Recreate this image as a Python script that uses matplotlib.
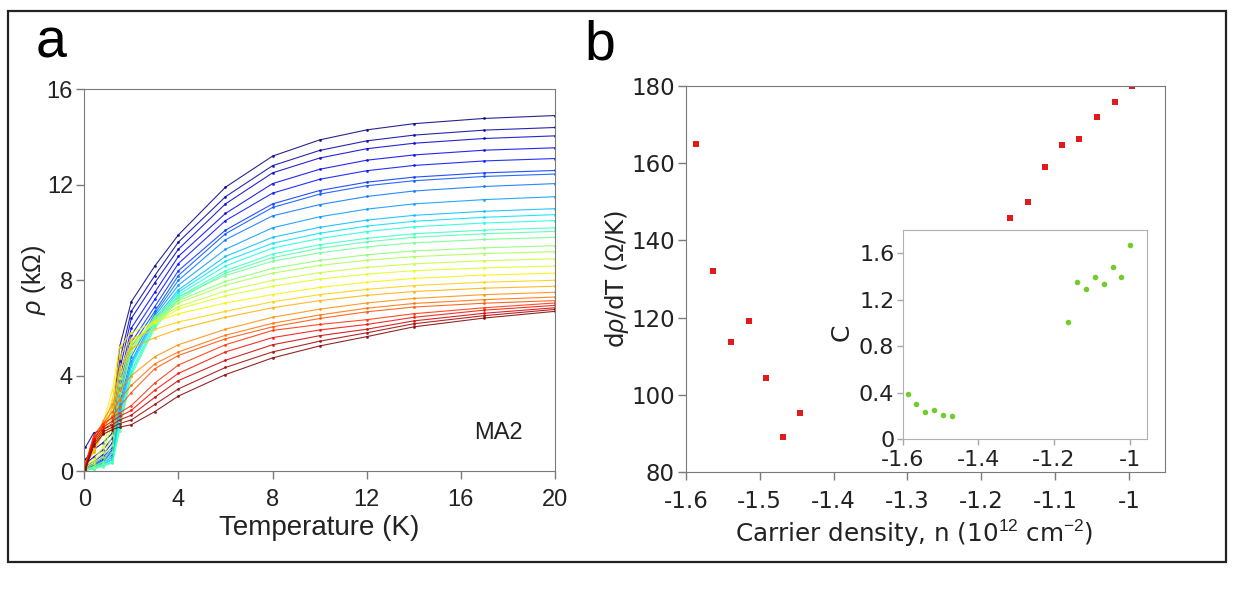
import matplotlib
matplotlib.use("Agg")
import matplotlib.pyplot as plt
from matplotlib.patches import Rectangle
import numpy as np

plt.rcParams['axes.unicode_minus'] = False
plt.rcParams['mathtext.fontset'] = 'custom'
plt.rcParams['mathtext.rm'] = 'Liberation Sans'
plt.rcParams['mathtext.it'] = 'Liberation Sans:italic'
plt.rcParams['mathtext.bf'] = 'Liberation Sans:bold'

# ---- panel a: resistivity vs temperature (rows = curves, top to bottom at 20 K)
T_K = [0.05, 0.4, 0.8, 1.2, 1.5, 2, 3, 4, 6, 8, 10, 12, 14, 17, 20]

rho_blue = [
    [1.0, 1.6, 1.75, 2.0, 5.2, 7.1, 8.6, 9.9, 11.9, 13.2, 13.88, 14.3, 14.56, 14.78, 14.9],
    [0.5, 0.9, 1.2, 1.6, 4.6, 6.7, 8.2, 9.6, 11.5, 12.8, 13.44, 13.84, 14.08, 14.29, 14.4],
    [0.3, 0.6, 0.9, 1.4, 4.2, 6.4, 7.9, 9.3, 11.2, 12.5, 13.12, 13.51, 13.74, 13.94, 14.05],
    [0.2, 0.4, 0.7, 1.2, 3.8, 6.0, 7.5, 9.0, 10.8, 12.05, 12.65, 13.03, 13.25, 13.45, 13.55],
    [0.15, 0.3, 0.6, 1.0, 3.5, 5.7, 7.2, 8.7, 10.5, 11.65, 12.23, 12.59, 12.81, 13.0, 13.1],
    [0.1, 0.3, 0.5, 0.9, 3.2, 5.4, 6.9, 8.4, 10.1, 11.2, 11.76, 12.11, 12.32, 12.5, 12.6],
    [0.1, 0.25, 0.45, 0.8, 3.0, 5.2, 6.7, 8.2, 9.95, 11.05, 11.61, 11.96, 12.17, 12.35, 12.45],
]
rho_cyan = [
    [0.05, 0.2, 0.4, 0.7, 2.8, 4.8, 6.6, 8.0, 9.7, 10.7, 11.17, 11.51, 11.74, 11.93, 12.05],
    [0.05, 0.2, 0.35, 0.6, 2.6, 4.6, 6.5, 7.8, 9.3, 10.2, 10.66, 10.98, 11.2, 11.38, 11.5],
    [0.05, 0.15, 0.3, 0.5, 2.4, 4.5, 6.4, 7.6, 9.0, 9.8, 10.22, 10.52, 10.72, 10.89, 11.0],
    [0.05, 0.15, 0.3, 0.5, 2.2, 4.4, 6.3, 7.5, 8.8, 9.55, 9.97, 10.27, 10.47, 10.64, 10.75],
    [0.05, 0.1, 0.25, 0.4, 2.0, 4.2, 6.2, 7.4, 8.6, 9.35, 9.75, 10.04, 10.24, 10.4, 10.5],
    [0.05, 0.1, 0.25, 0.4, 1.8, 4.1, 6.1, 7.3, 8.4, 9.1, 9.49, 9.76, 9.95, 10.1, 10.2],
    [0.05, 0.1, 0.2, 0.35, 1.7, 4.0, 6.0, 7.2, 8.3, 8.95, 9.34, 9.61, 9.8, 9.95, 10.05],
]
rho_green = [
    [0.05, 0.15, 0.3, 0.8, 3.0, 5.0, 6.5, 7.3, 8.2, 8.8, 9.15, 9.4, 9.57, 9.71, 9.8],
    [0.05, 0.2, 0.4, 1.1, 3.3, 5.1, 6.4, 7.15, 7.95, 8.5, 8.83, 9.07, 9.23, 9.36, 9.45],
    [0.1, 0.3, 0.6, 1.5, 3.6, 5.2, 6.35, 7.05, 7.8, 8.3, 8.62, 8.84, 8.99, 9.12, 9.2],
    [0.15, 0.4, 0.8, 2.0, 3.9, 5.3, 6.3, 6.9, 7.55, 8.0, 8.32, 8.54, 8.69, 8.82, 8.9],
    [0.2, 0.5, 1.0, 2.4, 4.2, 5.4, 6.2, 6.8, 7.35, 7.75, 8.05, 8.26, 8.4, 8.52, 8.6],
]
rho_yellow = [
    [0.3, 0.9, 2.0, 3.4, 5.2, 5.8, 6.25, 6.6, 7.05, 7.4, 7.7, 7.92, 8.08, 8.22, 8.3],
    [0.3, 0.8, 1.8, 3.0, 4.8, 5.55, 5.95, 6.25, 6.7, 7.1, 7.4, 7.62, 7.78, 7.92, 8.0],
    [0.35, 0.8, 1.6, 2.7, 4.3, 5.15, 5.6, 5.95, 6.45, 6.85, 7.15, 7.37, 7.53, 7.67, 7.75],
]
rho_orange = [
    [0.3, 1.2, 2.1, 2.8, 3.4, 4.0, 4.8, 5.3, 5.95, 6.45, 6.79, 7.05, 7.24, 7.4, 7.5],
    [0.3, 1.3, 2.0, 2.5, 3.0, 3.6, 4.5, 5.0, 5.7, 6.2, 6.55, 6.83, 7.03, 7.19, 7.3],
    [0.3, 1.4, 1.9, 2.3, 2.7, 3.3, 4.3, 4.85, 5.55, 6.05, 6.4, 6.68, 6.88, 7.04, 7.15],
]
rho_red = [
    [0.3, 1.5, 2.0, 2.25, 2.45, 2.75, 3.7, 4.45, 5.3, 5.9, 6.15, 6.35, 6.6, 6.85, 7.05],
    [0.2, 1.35, 1.85, 2.1, 2.3, 2.55, 3.4, 4.1, 5.0, 5.6, 5.92, 6.15, 6.45, 6.75, 6.95],
    [0.15, 1.25, 1.75, 1.95, 2.15, 2.35, 3.1, 3.8, 4.65, 5.3, 5.68, 5.95, 6.3, 6.62, 6.85],
    [0.1, 1.15, 1.65, 1.85, 2.0, 2.15, 2.8, 3.45, 4.35, 5.0, 5.45, 5.8, 6.18, 6.52, 6.78],
    [0.05, 1.05, 1.55, 1.75, 1.85, 1.95, 2.5, 3.15, 4.05, 4.75, 5.25, 5.64, 6.05, 6.42, 6.7],
]

# ---- panel b: slope and exponent vs carrier density
n_slope = [-1.586, -1.563, -1.539, -1.515, -1.492, -1.468, -1.445,
           -1.161, -1.137, -1.114, -1.090, -1.067, -1.043, -1.019, -0.996]
drho_dT = [165.0, 132.0, 113.6, 119.0, 104.4, 89.1, 95.3,
           145.8, 150.0, 159.1, 164.7, 166.2, 171.9, 175.9, 180.0]
n_C = [-1.587, -1.564, -1.540, -1.516, -1.4925, -1.4696,
       -1.162, -1.139, -1.115, -1.0915, -1.068, -1.0445, -1.0216, -0.998]
C_vals = [0.39, 0.30, 0.235, 0.255, 0.206, 0.20,
          1.006, 1.356, 1.293, 1.40, 1.336, 1.482, 1.393, 1.674]

W, H = 1241, 591
fig = plt.figure(figsize=(W / 100, H / 100), dpi=100)


def box(l, t, r, b):
    return [l / W, 1 - b / H, (r - l) / W, (b - t) / H]


spine_col = '#7a7a7a'
text_col = '#222222'

# ---------------- panel a
fa = 'Liberation Sans'
ax1 = fig.add_axes(box(84.2, 89.3, 555, 471.3))
curves = rho_blue + rho_cyan + rho_green + rho_yellow + rho_orange + rho_red
cols = plt.cm.jet(np.linspace(0.0, 1.0, len(curves)))
for rho, c in zip(curves, cols):
    ax1.plot(T_K, rho, '-', color=c, lw=0.8, alpha=0.85,
             marker='o', ms=2.0, mew=0)
ax1.set_xlim(0, 20)
ax1.set_ylim(0, 16)
ax1.set_xticks([0, 4, 8, 12, 16, 20])
ax1.set_yticks([0, 4, 8, 12, 16])
ax1.text(17.6, 1.6, 'MA2', ha='center', va='center', fontsize=17,
         family=fa, color=text_col)
ax1.set_xlabel('Temperature (K)', fontsize=20, family=fa, color=text_col)
ax1.set_ylabel(r'$\it{\rho}$ (k$\Omega$)', fontsize=18, family=fa, color=text_col)
ax1.xaxis.set_label_coords(0.5, -0.115)
ax1.yaxis.set_label_coords(-0.077, 0.5)
for lab in ax1.get_xticklabels() + ax1.get_yticklabels():
    lab.set_family(fa)
ax1.tick_params(labelsize=17, colors=spine_col, labelcolor=text_col,
                direction='out', length=6, width=1, pad=2)
ax1.tick_params(axis='x', pad=7)
for s in ax1.spines.values():
    s.set_color(spine_col)

# ---------------- panel b
fb = 'DejaVu Sans'
ax2 = fig.add_axes(box(686, 86, 1165, 472))
ax2.plot(n_slope, drho_dT, 's', color='#e01b1b', ms=4.2, mew=0)
ax2.set_xlim(-1.6, -0.951)
ax2.set_ylim(80, 180)
ax2.set_xticks([-1.6, -1.5, -1.4, -1.3, -1.2, -1.1, -1.0])
ax2.set_xticklabels(['-1.6', '-1.5', '-1.4', '-1.3', '-1.2', '-1.1', '-1'])
ax2.set_yticks([80, 100, 120, 140, 160, 180])
ax2.set_xlabel(r'Carrier density, n (10$^{12}$ cm$^{-2}$)', fontsize=17.7,
               family=fb, color=text_col)
ax2.set_ylabel(r'd$\it{\rho}$/dT ($\Omega$/K)', fontsize=17.7, family=fb,
               color=text_col)
ax2.xaxis.set_label_coords(0.4756, -0.118)
ax2.yaxis.set_label_coords(-0.115, 0.5)
for lab in ax2.get_xticklabels() + ax2.get_yticklabels():
    lab.set_family(fb)
ax2.tick_params(labelsize=16.5, colors=spine_col, labelcolor=text_col,
                direction='out', length=6, width=1, pad=2)
ax2.tick_params(axis='x', pad=7)
for s in ax2.spines.values():
    s.set_color(spine_col)

# inset
ax3 = fig.add_axes(box(902.7, 230, 1147, 439.3))
ax3.plot(n_C, C_vals, 'o', color='#72cc2b', ms=4.0, mew=0)
ax3.set_xlim(-1.6, -0.954)
ax3.set_ylim(0, 1.8)
ax3.set_xticks([-1.6, -1.4, -1.2, -1.0])
ax3.set_xticklabels(['-1.6', '-1.4', '-1.2', '-1'])
ax3.set_yticks([0, 0.4, 0.8, 1.2, 1.6])
ax3.set_yticklabels(['0', '0.4', '0.8', '1.2', '1.6'])
ax3.set_ylabel('C', fontsize=18, family=fb, color=text_col)
ax3.yaxis.set_label_coords(-0.2, 0.51)
for lab in ax3.get_xticklabels() + ax3.get_yticklabels():
    lab.set_family(fb)
ax3.tick_params(labelsize=16, colors='#a8a8a8', labelcolor=text_col,
                direction='out', length=4, width=1, pad=2)
ax3.tick_params(axis='x', pad=4)
for s in ax3.spines.values():
    s.set_color('#b0b0b0')

# panel letters and outer frame
fig.text(36 / W, 1 - 57 / H, 'a', fontsize=40, family=fa, color='black')
fig.text(584 / W, 1 - 59 / H, 'b', fontsize=40, family=fa, color='black')
fig.patches.append(Rectangle((8 / W, 1 - 562 / H), (1226 - 8) / W, (562 - 11) / H,
                             transform=fig.transFigure, fill=False,
                             edgecolor='#222222', lw=1.6))

fig.savefig('out.png', dpi=100)
